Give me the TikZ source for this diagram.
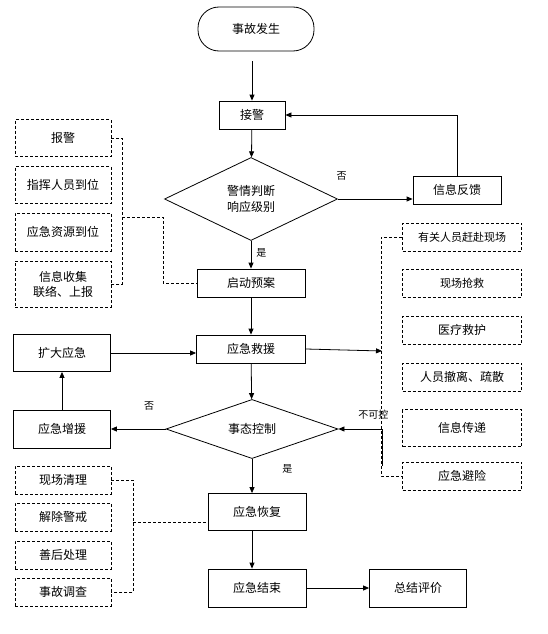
\documentclass[tikz,border=0pt]{standalone}
\usepackage{fontspec}
\setmainfont{Noto Sans CJK SC}
\usetikzlibrary{shapes.geometric,arrows.meta}

\begin{document}
\begin{tikzpicture}[x=1pt,y=-1pt,
  box/.style={draw,line width=0.8pt,inner sep=0pt,font=\fontsize{12}{15}\selectfont,align=center},
  dbox/.style={box,dash pattern=on 3pt off 2pt},
  judge/.style={draw,diamond,line width=0.8pt,inner sep=0pt,align=center,font=\fontsize{12}{16}\selectfont},
  arr/.style={line width=0.8pt,-{Triangle[length=6pt,width=5pt]}},
  dline/.style={line width=0.8pt,dash pattern=on 3pt off 2pt},
  lbl/.style={font=\fontsize{10}{12}\selectfont,inner sep=0pt}]
\useasboundingbox (0,0) rectangle (547,634);
\node[box,rounded corners=21pt,minimum width=116pt,minimum height=44pt] (start) at (256,29) {事故发生};
\node[box,minimum width=66pt,minimum height=28pt] (jj) at (252,115) {接警};
\node[judge,minimum width=173pt,minimum height=83pt] (d1) at (251,199) {警情判断\\响应级别};
\node[box,minimum width=88pt,minimum height=28pt] (fk) at (457,190) {信息反馈};
\node[box,minimum width=108pt,minimum height=28pt] (qd) at (251,283) {启动预案};
\node[box,minimum width=109pt,minimum height=28pt] (jy) at (251,349) {应急救援};
\node[box,minimum width=97pt,minimum height=37pt] (kd) at (62,353) {扩大应急};
\node[box,minimum width=97pt,minimum height=38pt] (zy) at (62,429) {应急增援};
\node[judge,minimum width=172pt,minimum height=56pt] (d2) at (252,429) {事态控制};
\node[box,minimum width=98pt,minimum height=37pt] (hf) at (257,512) {应急恢复};
\node[box,minimum width=98pt,minimum height=38pt] (js) at (257,588) {应急结束};
\node[box,minimum width=97pt,minimum height=38pt] (zj) at (418,588) {总结评价};

\node[dbox,minimum width=96pt,minimum height=37pt] (l1) at (63,138) {报警};
\node[dbox,minimum width=96pt,minimum height=37pt] (l2) at (63,185) {指挥人员到位};
\node[dbox,minimum width=96pt,minimum height=38pt] (l3) at (63,232) {应急资源到位};
\node[dbox,minimum width=96pt,minimum height=46pt] (l4) at (63,284) {信息收集\\联络、上报};

\node[dbox,minimum width=119pt,minimum height=28pt,font=\fontsize{11}{13}\selectfont] (r1) at (462,237) {有关人员赶赴现场};
\node[dbox,minimum width=119pt,minimum height=28pt,font=\fontsize{11}{13}\selectfont] (r2) at (462,283) {现场抢救};
\node[dbox,minimum width=119pt,minimum height=28pt] (r3) at (462,330) {医疗救护};
\node[dbox,minimum width=119pt,minimum height=28pt] (r4) at (462,377) {人员撤离、疏散};
\node[dbox,minimum width=119pt,minimum height=37pt] (r5) at (462,428) {信息传递};
\node[dbox,minimum width=119pt,minimum height=28pt] (r6) at (462,476) {应急避险};

\node[dbox,minimum width=96pt,minimum height=28pt] (b1) at (63,480) {现场清理};
\node[dbox,minimum width=96pt,minimum height=28pt] (b2) at (63,517) {解除警戒};
\node[dbox,minimum width=96pt,minimum height=28pt] (b3) at (63,555) {善后处理};
\node[dbox,minimum width=96pt,minimum height=28pt] (b4) at (63,592) {事故调查};

\coordinate (lm) at (122,217);
\coordinate (rm) at (382,351);
\coordinate (bk) at (382,466);
\coordinate (bm) at (133,522);

\draw[arr,shorten <=10pt] (start.south -| jj.north) -- (jj.north);
\draw[arr] (jj) -- (d1);
\draw[arr] (d1) -- (qd) node[lbl,pos=0.45,right=5pt] {是};
\draw[arr] (d1.east) -- (d1.east -| fk.west) node[lbl,pos=0.05,above=18pt] {否};
\draw[arr] (fk.north) |- (jj.east);
\draw[arr] (qd) -- (jy);
\draw[arr] (jy) -- (d2);
\draw[arr] (jy.east) -- (rm);
\draw[arr] (kd.east) -- (kd.east -| jy.west);
\draw[arr] (zy) -- (kd);
\draw[arr] (d2.west) -- (zy.east) node[lbl,pos=0.3,above=18pt] {否};
\draw[arr] (bk) |- (d2.east) node[lbl,pos=0.6,above=9pt] {不可控};
\draw[arr] (d2.south) -- (d2.south |- hf.north) node[lbl,pos=0.3,right=30pt] {是};
\draw[arr] (hf.south -| d2.south) -- (js.north -| d2.south);
\draw[arr] (js) -- (zj);

\draw[dline] (l1.east) -- ++(11,0) |- (l4.east);
\draw[dline] (lm) -- (163,217) |- (qd.west);
\draw[dline] (r1.west) -- ++(-21,0) |- (r6.west);
\draw[dline] (b1.east) -- ++(22,0) |- (b4.east);
\draw[dline] (bm) -- (bm -| hf.west);
\end{tikzpicture}
\end{document}
